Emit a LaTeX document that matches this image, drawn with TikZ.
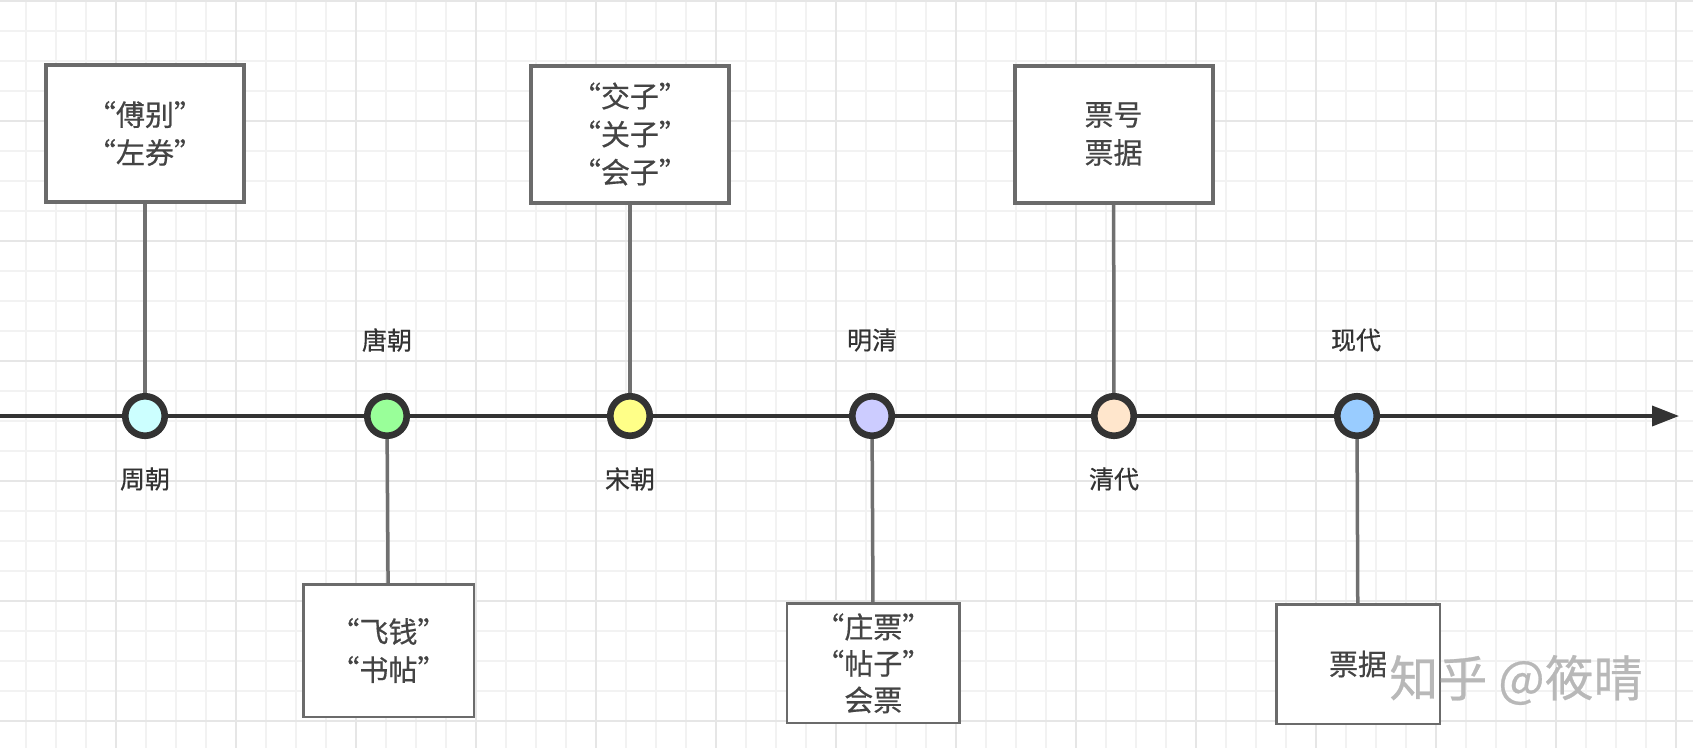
\documentclass[tikz,border=0pt]{standalone}
\usepackage{fontspec}
\setmainfont{Noto Sans CJK SC}[FakeBold=0.5]
\usetikzlibrary{arrows.meta}
\definecolor{gridminor}{HTML}{F2F2F2}
\definecolor{gridmajor}{HTML}{E6E6E6}
\definecolor{dotc}{HTML}{333333}
\definecolor{axisc}{HTML}{333333}
\definecolor{boxc}{HTML}{6B6B6B}
\definecolor{linkc}{HTML}{707070}
\definecolor{textc}{HTML}{444444}
\definecolor{labelc}{HTML}{333333}
\definecolor{wmc}{HTML}{B8B8B8}
\definecolor{cA}{HTML}{CCFFFF}
\definecolor{cB}{HTML}{99FF99}
\definecolor{cC}{HTML}{FFFF88}
\definecolor{cD}{HTML}{CCCCFF}
\definecolor{cE}{HTML}{FFE6CC}
\definecolor{cF}{HTML}{99CCFF}
\pgfdeclarelayer{gridlayer}
\pgfdeclarelayer{backlayer}
\pgfsetlayers{gridlayer,backlayer,main}
\begin{document}
\begin{tikzpicture}[x=1pt,y=-1pt,
  period/.style={circle, draw=dotc, line width=6.6pt, minimum size=39.5pt, inner sep=0pt},
  topbox/.style={draw=boxc, line width=4pt, fill=white, minimum width=198pt, minimum height=137pt,
    align=center, inner sep=0pt, text=textc, font=\fontsize{29}{38}\selectfont},
  botbox/.style={draw=boxc, line width=2.5pt, fill=white,
    align=center, inner sep=0pt, text=textc, font=\fontsize{29}{38}\selectfont},
  lbl/.style={text=labelc, font=\fontsize{25}{30}\selectfont, inner sep=0pt},
  link/.style={draw=linkc, line width=3.5pt},
  axis/.style={draw=axisc, line width=3.6pt, -{Triangle[length=27pt,width=20pt]}},
  wmark/.style={text=wmc, font=\fontsize{49}{49}\selectfont, inner sep=0pt}
]
\useasboundingbox (0,0) rectangle (1693,748);
\begin{pgfonlayer}{gridlayer}
  \fill[white] (0,0) rectangle (1693,748);
  \foreach \x in {26,56,...,1693} \draw[gridminor, line width=1.5pt] (\x,0) -- (\x,748);
  \foreach \y in {1,31,...,748} \draw[gridminor, line width=1.5pt] (0,\y) -- (1693,\y);
  \foreach \x in {116,236,...,1693} \draw[gridmajor, line width=2pt] (\x,0) -- (\x,748);
  \foreach \y in {1,121,...,748} \draw[gridmajor, line width=2pt] (0,\y) -- (1693,\y);
\end{pgfonlayer}

% timeline points
\node[period, fill=cA] (p1) at (145,416) {};
\node[period, fill=cB] (p2) at (387,416) {};
\node[period, fill=cC] (p3) at (630,416) {};
\node[period, fill=cD] (p4) at (872,416) {};
\node[period, fill=cE] (p5) at (1114,416) {};
\node[period, fill=cF] (p6) at (1357,416) {};

% period labels
\node[lbl] (l1) at (145,479) {周朝};
\node[lbl] (l2) at (387,340) {唐朝};
\node[lbl] (l3) at (630,479) {宋朝};
\node[lbl] (l4) at (872,340) {明清};
\node[lbl] (l5) at (1114,479) {清代};
\node[lbl] (l6) at (1356,340) {现代};

% boxes above
\node[topbox] (b1) at (145,133.5) {“傅别”\\“左券”};
\node[topbox] (b3) at (630,134) {“交子”\\“关子”\\“会子”};
\node[topbox] (b5) at (1113.5,134) {票号\\票据};

% boxes below
\node[botbox, minimum width=170.5pt, minimum height=132.5pt] (b2) at (388.5,650.5) {“飞钱”\\“书帖”};
\node[botbox, minimum width=172.8pt, minimum height=119.5pt, font=\fontsize{29}{36.5}\selectfont] (b4) at (873.3,663.3) {“庄票”\\“帖子”\\会票};
\node[botbox, minimum width=163.5pt, minimum height=119.5pt] (b6) at (1358,664) {票据};

% axis and connectors
\coordinate (axstart) at (0,416);
\coordinate (axend) at (1679,416);
\begin{pgfonlayer}{backlayer}
  \draw[axis] (axstart) -- (axend);
  \draw[link] (b1) -- (p1);
  \draw[link] (p2) -- (b2);
  \draw[link] (b3) -- (p3);
  \draw[link] (p4) -- (b4);
  \draw[link] (b5) -- (p5);
  \draw[link] (p6) -- (b6);
\end{pgfonlayer}

% watermark
\node[wmark] (wm) at (1516,680) {知乎 @筱晴};
\end{tikzpicture}
\end{document}
